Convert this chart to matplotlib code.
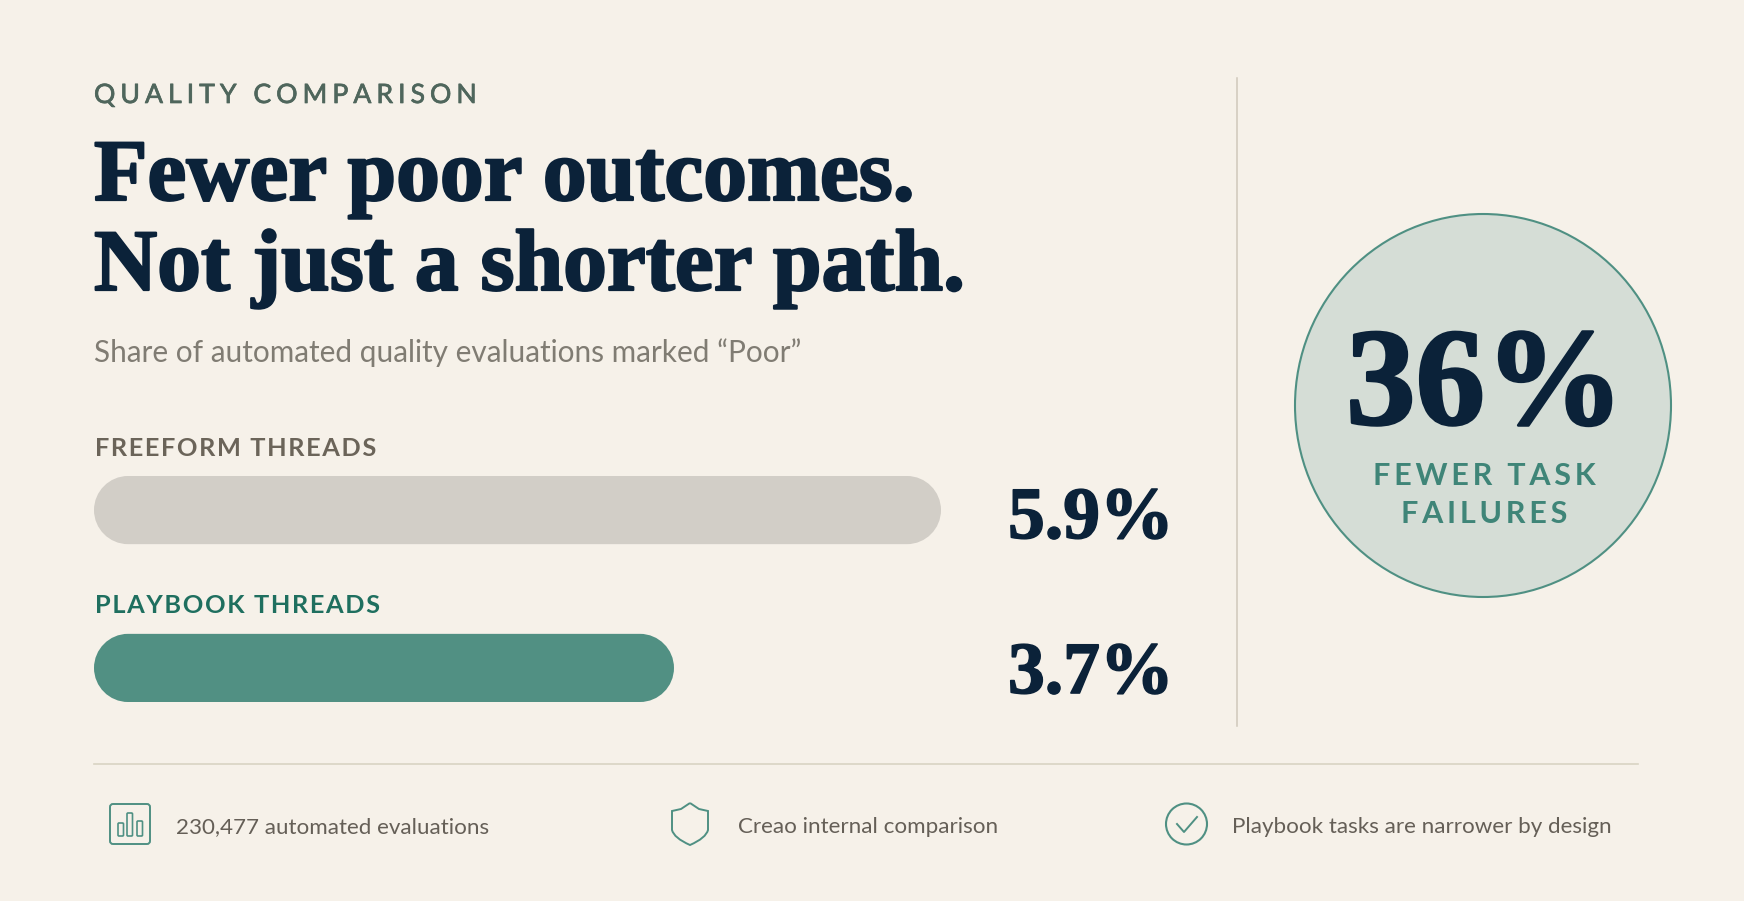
import matplotlib
matplotlib.use('Agg')
import matplotlib.pyplot as plt
import matplotlib.patheffects as pe
from matplotlib.patches import FancyBboxPatch, Ellipse, Circle, PathPatch
from matplotlib.path import Path

HS = '\u200a'

eyebrow = 'QUALITY COMPARISON'
headline = ['Fewer poor outcomes.', 'Not just a shorter path.']
subtitle = 'Share of automated quality evaluations marked \u201cPoor\u201d'
categories = ['FREEFORM THREADS', 'PLAYBOOK THREADS']
value_labels = ['5.9%', '3.7%']
# lengths as drawn in the picture, on a scale where the top bar is 5.9
bar_lengths = [5.9, 4.04]
big_number = '36%'
big_caption = ['FEWER TASK', 'FAILURES']
notes = ['230,477 automated evaluations', 'Creao internal comparison',
         'Playbook tasks are narrower by design']

BG = '#f6f1e9'
NAVY = '#0b2239'
TEAL = '#4f9083'
SERIF = ['Liberation Serif', 'DejaVu Serif']
SANS = ['Lato', 'DejaVu Sans']
W, H = 1744, 901


def spaced(s, n=1):
    return (HS * n).join(s)


def thick(c, w):
    return [pe.withStroke(linewidth=w, foreground=c)]


def pill(x, y, w, h, rx, ry):
    k = 0.45  # share of the radius left to the control point
    x1, y1 = x + w, y + h
    verts = [(x + rx, y), (x1 - rx, y),
             (x1 - rx * k, y), (x1, y + ry * k), (x1, y + ry),
             (x1, y1 - ry),
             (x1, y1 - ry * k), (x1 - rx * k, y1), (x1 - rx, y1),
             (x + rx, y1),
             (x + rx * k, y1), (x, y1 - ry * k), (x, y1 - ry),
             (x, y + ry),
             (x, y + ry * k), (x + rx * k, y), (x + rx, y)]
    codes = [Path.MOVETO, Path.LINETO, Path.CURVE4, Path.CURVE4, Path.CURVE4, Path.LINETO,
             Path.CURVE4, Path.CURVE4, Path.CURVE4, Path.LINETO, Path.CURVE4, Path.CURVE4, Path.CURVE4,
             Path.LINETO, Path.CURVE4, Path.CURVE4, Path.CURVE4]
    return Path(verts, codes)


fig = plt.figure(figsize=(W / 100, H / 100), dpi=100, facecolor=BG)

# whole figure axes, in pixels of the picture
ax = fig.add_axes([0, 0, 1, 1])
ax.set_xlim(0, W)
ax.set_ylim(H, 0)
ax.axis('off')

# bars
bx0, bx1, by0, by1 = 94, 941, 476, 702
ax_bar = fig.add_axes([bx0 / W, 1 - by1 / H, (bx1 - bx0) / W, (by1 - by0) / H])
bar_h = 0.4317
ax_bar.set_xlim(0, 5.9)
ax_bar.set_ylim(1 + bar_h / 2, -bar_h / 2)
ax_bar.axis('off')
ax_bar.patch.set_alpha(0)
x_px = (bx1 - bx0) / 5.9
y_px = (by1 - by0) / (1 + bar_h)
bars = ax_bar.barh(range(len(bar_lengths)), bar_lengths, height=bar_h, color='none')
for rect, c in zip(bars, ['#d2cec7', '#519083']):
    ax_bar.add_patch(PathPatch(pill(rect.get_x(), rect.get_y(), rect.get_width(), rect.get_height(),
                                    34 / x_px, bar_h / 2), fc=c, ec='none'))

# header
ax.text(94, 103, spaced(eyebrow, 3), family=SANS, fontsize=19.2, color='#4f665c', va='baseline',
        path_effects=thick('#4f665c', 0.5))
for line, y in zip(headline, [200, 290]):
    ax.text(94, y, line, family=SERIF, fontsize=63, weight='bold', color=NAVY, va='baseline',
            path_effects=thick(NAVY, 1.6))
ax.text(94, 362, subtitle, family=SANS, fontsize=21.4, color='#807c73', va='baseline')

# bar labels
for label, y, c in zip(categories, [456, 613], ['#6b6459', '#1f6f5f']):
    ax.text(95, y, spaced(label), family=SANS, fontsize=18.3, weight='bold', color=c, va='baseline')
for val, y in zip(value_labels, [538, 693]):
    ax.text(1008, y, val, family=SERIF, fontsize=53, weight='bold', color=NAVY, va='baseline',
            path_effects=thick(NAVY, 1.2))

# divider lines
ax.plot([1237, 1237], [78, 726], color='#cfc8bb', lw=1.1)
ax.plot([94, 1638], [764, 764], color='#d8d3c3', lw=1.2)

# circle
ax.add_patch(Ellipse((1483, 405.5), 376, 383, fc='#d5ddd6', ec=TEAL, lw=1.5))
ax.text(1485, 424, big_number, family=SERIF, fontsize=100, weight='bold', color=NAVY, ha='center', va='baseline',
        path_effects=thick(NAVY, 2))
for line, y in zip(big_caption, [485, 523]):
    ax.text(1484, y, spaced(line, 2), family=SANS, fontsize=22, weight='bold', color='#3f8578',
            ha='center', va='baseline')

# footer notes
for note, x in zip(notes, [176, 738, 1232]):
    ax.text(x, 833, note, family=SANS, fontsize=16.1, color='#655f57', va='baseline')

# footer icons
ax.add_patch(FancyBboxPatch((110, 804), 40, 40, boxstyle='round,pad=0,rounding_size=3',
                            fc='none', ec=TEAL, lw=1.4))
for x, top in zip([118, 127, 137], [823, 813, 821]):
    ax.add_patch(FancyBboxPatch((x, top), 5.5, 836 - top, boxstyle='round,pad=0,rounding_size=1',
                                fc='none', ec=TEAL, lw=1.2))
shield = Path([(690, 803), (699, 809), (708, 811), (708, 830), (706, 838), (690, 845),
               (674, 838), (672, 830), (672, 811), (681, 809), (690, 803)],
              [Path.MOVETO, Path.LINETO, Path.LINETO, Path.LINETO, Path.CURVE3, Path.CURVE3,
               Path.CURVE3, Path.CURVE3, Path.LINETO, Path.LINETO, Path.LINETO])
ax.add_patch(PathPatch(shield, fc='none', ec=TEAL, lw=1.4))
ax.add_patch(Circle((1186.5, 824), 20.5, fc='none', ec=TEAL, lw=1.5))
ax.plot([1177, 1184, 1197], [824, 832, 817], color=TEAL, lw=1.4)

fig.savefig('out.png', dpi=100, facecolor=BG)
